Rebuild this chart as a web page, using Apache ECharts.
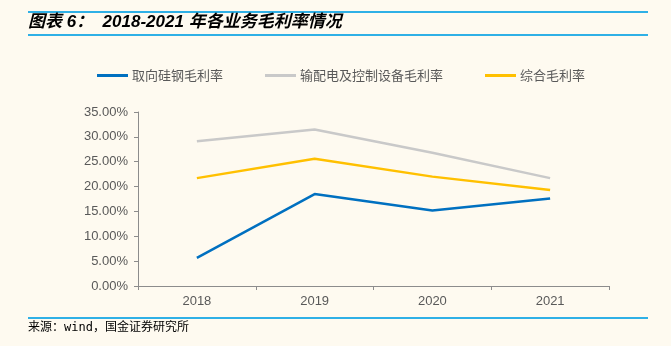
<!DOCTYPE html>
<html><head><meta charset="utf-8">
<script src="https://cdn.jsdelivr.net/npm/echarts@6/dist/echarts.min.js"></script>
<style>html,body{margin:0;padding:0;background:#FEFAF0;}#c{width:671px;height:346px;}</style>
</head><body><div id="c"></div>
<script>
var categories = ['2018', '2019', '2020', '2021'];
var siliconSteel = [5.65, 18.5, 15.2, 17.6];
var distribution = [29.1, 31.5, 26.8, 21.7];
var overall = [21.7, 25.6, 22.0, 19.3];
var seriesNames = ['取向硅钢毛利率', '输配电及控制设备毛利率', '综合毛利率'];

var chart = echarts.init(document.getElementById('c'));
chart.setOption({
  backgroundColor: '#FEFAF0',
  animation: false,
  legend: {
    top: 64, left: 92,
    itemWidth: 31, itemHeight: 3, itemGap: 42,
    icon: 'rect',
    textStyle: {fontFamily: 'Noto Sans CJK SC', fontSize: 13, color: '#595959', padding: [0,0,0,-1]},
    data: seriesNames
  },
  grid: {left: 138, right: 62, top: 112, bottom: 60},
  xAxis: {
    type: 'category', data: categories, boundaryGap: true,
    axisLine: {lineStyle: {color: '#8c8c8c', width: 1}},
    axisTick: {show: true, length: 4, lineStyle: {color: '#8c8c8c'}},
    axisLabel: {color: '#595959', fontSize: 13, fontFamily: 'Liberation Sans', margin: 9}
  },
  yAxis: {
    type: 'value', min: 0, max: 35, interval: 5,
    axisLine: {show: true, lineStyle: {color: '#8c8c8c', width: 1}},
    axisTick: {show: true, length: 4, lineStyle: {color: '#8c8c8c'}},
    splitLine: {show: false},
    axisLabel: {color: '#595959', fontSize: 13, fontFamily: 'Liberation Sans', margin: 10,
      formatter: function(v){return v.toFixed(2) + '%';}}
  },
  series: [
    {name: seriesNames[0], type: 'line', data: siliconSteel, symbol: 'none', lineStyle: {color: '#0070C0', width: 2.5}, itemStyle: {color: '#0070C0'}},
    {name: seriesNames[1], type: 'line', data: distribution, symbol: 'none', lineStyle: {color: '#C9C9C9', width: 2.5}, itemStyle: {color: '#C9C9C9'}},
    {name: seriesNames[2], type: 'line', data: overall, symbol: 'none', lineStyle: {color: '#FFC000', width: 2.5}, itemStyle: {color: '#FFC000'}}
  ],
  graphic: [
    {type: 'rect', shape: {x: 28, y: 11, width: 620, height: 2}, style: {fill: '#2FB0E6'}},
    {type: 'rect', shape: {x: 28, y: 34, width: 620, height: 2}, style: {fill: '#2FB0E6'}},
    {type: 'text', left: 28, top: 14, style: {text: '图表 6：  2018-2021 年各业务毛利率情况', font: 'italic bold 17px "Liberation Sans", "Noto Sans CJK SC"', fill: '#000'}},
    {type: 'rect', shape: {x: 28, y: 317, width: 620, height: 2}, style: {fill: '#2FB0E6'}},
    {type: 'text', left: 28, top: 322, style: {text: '来源：wind，国金证券研究所', font: '12px "DejaVu Sans Mono", "Noto Sans CJK SC"', fill: '#000'}}
  ]
});
</script></body></html>
